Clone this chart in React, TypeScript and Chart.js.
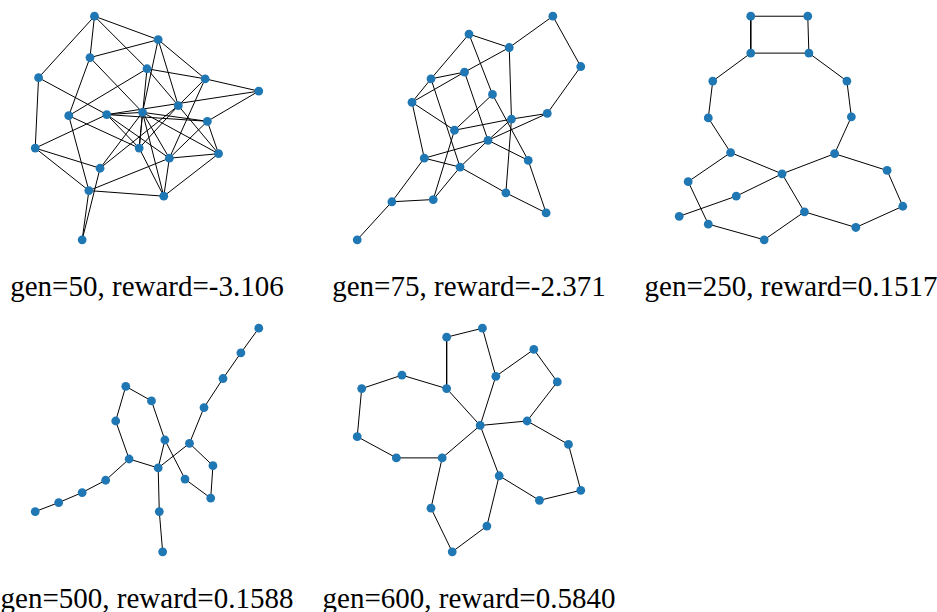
import { useEffect, useRef } from "react";
import { Chart, ScatterController, PointElement, LineElement, LinearScale } from "chart.js";

Chart.register(ScatterController, PointElement, LineElement, LinearScale);

// graph snapshots: node layout (scaled to [-1, 1]) and edges as index pairs
const generations = [50, 75, 250, 500, 600];
const rewards = ["-3.106", "-2.371", "0.1517", "0.1588", "0.5840"];

const gen50Nodes: [number, number][] = [
  [-0.47, 1.0], [-0.51, 0.63], [-0.97, 0.45], [0.0, 0.53], [-0.7, 0.11],
  [-0.36, 0.12], [-0.04, 0.14], [-1.0, -0.18], [-0.07, -0.18], [-0.42, -0.36],
  [-0.52, -0.56], [-0.58, -1.0], [0.1, 0.79], [0.52, 0.44], [1.0, 0.33],
  [0.28, 0.2], [0.54, 0.06], [0.2, -0.27], [0.64, -0.23], [0.15, -0.61],
];
const gen50Edges: [number, number][] = [
  [0, 1], [0, 2], [0, 12], [0, 3], [1, 12], [1, 4], [1, 6], [2, 7], [2, 5],
  [3, 4], [3, 13], [3, 8], [3, 15], [12, 6], [12, 15], [12, 13], [13, 14],
  [13, 15], [13, 17], [14, 5], [14, 16], [4, 10], [4, 8], [7, 5], [7, 9],
  [7, 10], [5, 6], [5, 16], [5, 8], [5, 17], [6, 16], [6, 8], [6, 19], [6, 17],
  [6, 9], [15, 8], [15, 9], [15, 18], [6, 18], [16, 17], [16, 18], [17, 18],
  [17, 19], [8, 19], [19, 18], [10, 19], [10, 17], [11, 10], [11, 9],
];

const gen75Nodes: [number, number][] = [
  [0.75, 1.0], [0.0, 0.84], [0.36, 0.72], [1.0, 0.55], [-0.34, 0.44],
  [-0.04, 0.5], [0.21, 0.3], [-0.51, 0.23], [0.7, 0.13], [0.38, 0.08],
  [-0.13, -0.02], [0.17, -0.11], [-0.4, -0.27], [0.53, -0.29], [-0.08, -0.35],
  [-0.69, -0.66], [-0.32, -0.64], [0.33, -0.58], [0.69, -0.76], [-1.0, -1.0],
];
const gen75Edges: [number, number][] = [
  [0, 2], [0, 3], [3, 8], [1, 2], [1, 4], [1, 6], [2, 5], [2, 9], [9, 17],
  [4, 5], [4, 7], [4, 14], [5, 7], [5, 11], [6, 10], [6, 13], [7, 10], [7, 12],
  [10, 9], [9, 8], [10, 16], [11, 8], [11, 9], [14, 11], [16, 14], [12, 11],
  [12, 14], [12, 15], [15, 16], [15, 19], [14, 17], [17, 18], [13, 18], [11, 13],
];

const gen250Nodes: [number, number][] = [
  [-0.36, 1.0], [0.15, 1.0], [-0.36, 0.67], [0.16, 0.67], [-0.7, 0.42],
  [0.5, 0.42], [-0.74, 0.09], [0.54, 0.1], [-0.54, -0.22], [0.39, -0.23],
  [-0.08, -0.41], [-0.92, -0.48], [0.86, -0.38], [-0.49, -0.61], [-1.0, -0.79],
  [0.12, -0.75], [1.0, -0.7], [-0.74, -0.86], [0.58, -0.89], [-0.24, -1.0],
];
const gen250Edges: [number, number][] = [
  [0, 1], [0, 2], [1, 3], [2, 3], [2, 4], [3, 5], [4, 6], [5, 7], [6, 8],
  [7, 9], [8, 10], [9, 10], [8, 11], [11, 17], [17, 19], [19, 15], [10, 15],
  [15, 18], [18, 16], [16, 12], [12, 9], [10, 13], [13, 14],
];

const gen500Nodes: [number, number][] = [
  [1.0, 1.0], [0.84, 0.78], [0.68, 0.55], [0.51, 0.29], [0.38, -0.03],
  [-0.19, 0.48], [0.04, 0.35], [-0.28, 0.17], [0.16, 0.0], [-0.16, -0.17],
  [0.1, -0.25], [0.59, -0.23], [0.34, -0.35], [0.57, -0.52], [-0.37, -0.36],
  [-0.58, -0.47], [-0.79, -0.56], [-1.0, -0.64], [0.11, -0.64], [0.14, -1.0],
];
const gen500Edges: [number, number][] = [
  [0, 1], [1, 2], [2, 3], [3, 4], [4, 10], [4, 11], [11, 13], [13, 12],
  [12, 8], [6, 8], [8, 10], [5, 6], [5, 7], [7, 9], [9, 10], [9, 14],
  [14, 15], [15, 16], [16, 17], [10, 18], [18, 19],
];

const gen600Nodes: [number, number][] = [
  [0.12, 1.0], [-0.2, 0.92], [0.58, 0.81], [-0.6, 0.58], [0.24, 0.57],
  [0.79, 0.52], [-0.96, 0.46], [-0.2, 0.46], [0.1, 0.13], [0.52, 0.17],
  [-1.0, 0.03], [0.89, -0.04], [-0.65, -0.16], [-0.24, -0.16], [0.27, -0.32],
  [1.0, -0.45], [0.63, -0.54], [-0.34, -0.61], [0.16, -0.77], [-0.15, -1.0],
];
const gen600Edges: [number, number][] = [
  [0, 1], [1, 7], [0, 4], [4, 2], [2, 5], [5, 9], [9, 8], [4, 8], [7, 8],
  [7, 3], [3, 6], [6, 10], [10, 12], [12, 13], [13, 8], [13, 17], [17, 19],
  [19, 18], [18, 14], [14, 8], [14, 16], [16, 15], [15, 11], [11, 9],
];

const graphs = [
  { nodes: gen50Nodes, edges: gen50Edges },
  { nodes: gen75Nodes, edges: gen75Edges },
  { nodes: gen250Nodes, edges: gen250Edges },
  { nodes: gen500Nodes, edges: gen500Edges },
  { nodes: gen600Nodes, edges: gen600Edges },
];

const SIZE = 248;
const COL_X = [147, 469, 791];
const ROW_Y = [128, 440];

function GraphPanel({
  nodes,
  edges,
  label,
  cx,
  cy,
}: {
  nodes: [number, number][];
  edges: [number, number][];
  label: string;
  cx: number;
  cy: number;
}) {
  const canvasRef = useRef<HTMLCanvasElement>(null);

  useEffect(() => {
    const canvas = canvasRef.current;
    if (!canvas) return;

    const points = nodes.map(([x, y]) => ({ x, y }));
    // one polyline, broken with NaN between edges
    const segments: { x: number; y: number }[] = [];
    edges.forEach(([a, b]) => {
      segments.push({ x: nodes[a][0], y: nodes[a][1] });
      segments.push({ x: nodes[b][0], y: nodes[b][1] });
      segments.push({ x: NaN, y: NaN });
    });

    const chart = new Chart(canvas.getContext("2d")!, {
      type: "scatter",
      data: {
        datasets: [
          {
            data: points,
            backgroundColor: "#1f77b4",
            borderColor: "#1f77b4",
            borderWidth: 0,
            pointRadius: 4.4,
            pointHoverRadius: 4.4,
            showLine: false,
            order: 0,
          },
          {
            data: segments,
            showLine: true,
            spanGaps: false,
            borderColor: "#000000",
            borderWidth: 1,
            pointRadius: 0,
            pointHoverRadius: 0,
            order: 1,
          },
        ],
      },
      options: {
        animation: false,
        responsive: true,
        maintainAspectRatio: false,
        layout: { padding: 0 },
        events: [],
        scales: {
          x: { type: "linear", min: -1.07, max: 1.07, display: false },
          y: { type: "linear", min: -1.07, max: 1.07, display: false },
        },
        plugins: { legend: { display: false }, tooltip: { enabled: false } },
      },
    });

    return () => chart.destroy();
  }, [nodes, edges]);

  return (
    <>
      <div
        style={{
          position: "absolute",
          left: cx - SIZE / 2,
          top: cy - SIZE / 2,
          width: SIZE,
          height: SIZE,
        }}
      >
        <canvas ref={canvasRef} />
      </div>
      <div
        style={{
          position: "absolute",
          left: cx - 170,
          width: 340,
          top: cy + 144,
          textAlign: "center",
          fontFamily: "'Liberation Serif', serif",
          fontSize: 29,
          lineHeight: "29px",
          color: "#000",
          whiteSpace: "nowrap",
        }}
      >
        {label}
      </div>
    </>
  );
}

export default function App() {
  return (
    <div
      style={{
        position: "fixed",
        left: 0,
        top: 0,
        width: 937,
        height: 612,
        background: "#fff",
        overflow: "hidden",
      }}
    >
      {graphs.map((g, i) => (
        <GraphPanel
          key={i}
          nodes={g.nodes}
          edges={g.edges}
          label={`gen=${generations[i]}, reward=${rewards[i]}`}
          cx={COL_X[i % 3]}
          cy={ROW_Y[Math.floor(i / 3)]}
        />
      ))}
    </div>
  );
}
